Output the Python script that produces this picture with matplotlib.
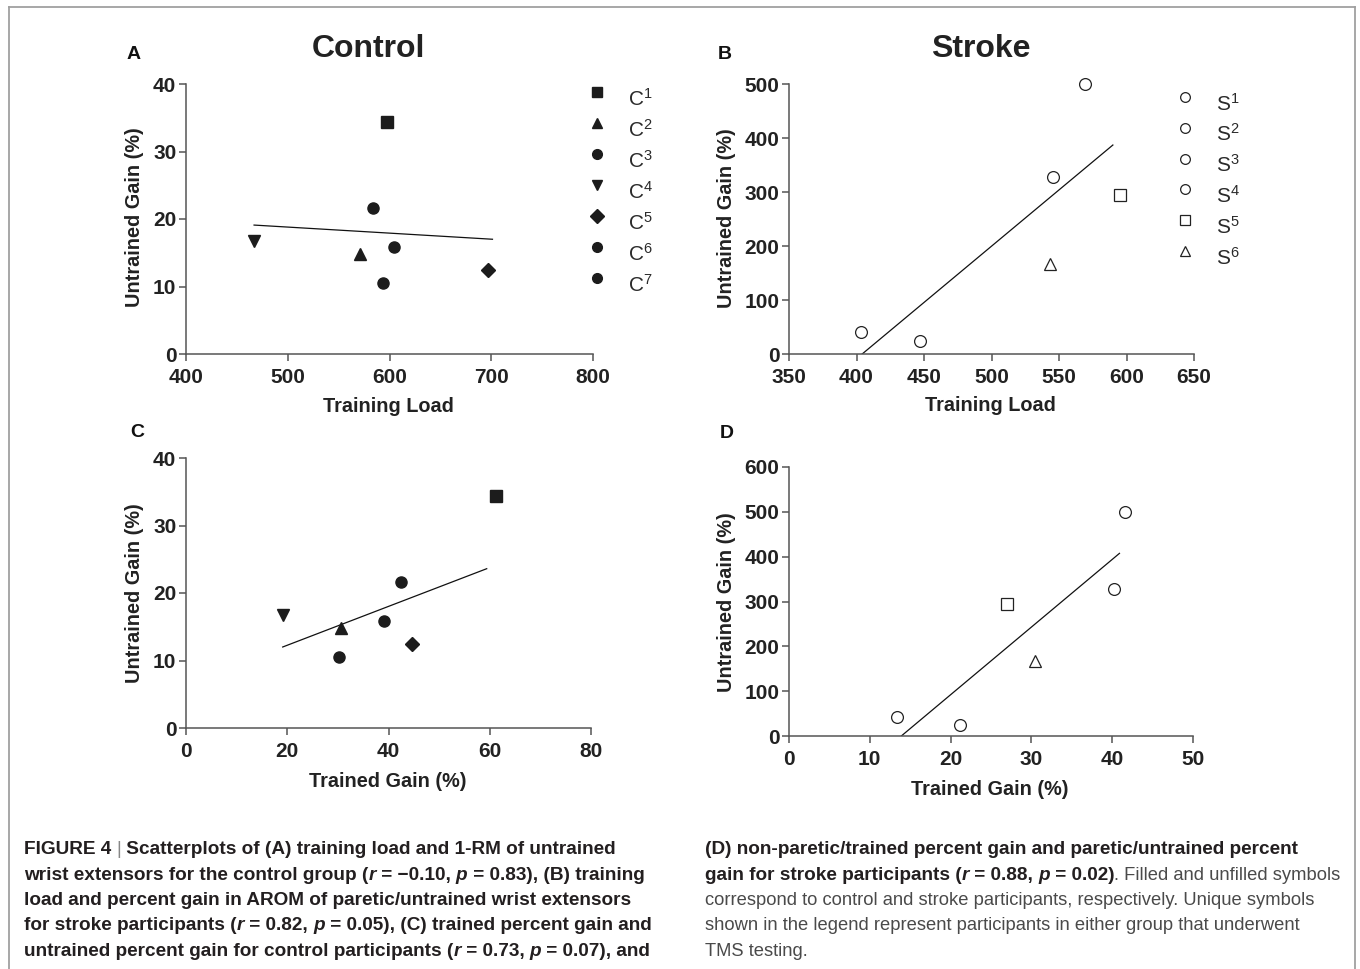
import matplotlib
matplotlib.use('Agg')
import matplotlib.pyplot as plt
from matplotlib.lines import Line2D

plt.rcParams['font.family'] = ['Liberation Sans', 'DejaVu Sans']
plt.rcParams['mathtext.fontset'] = 'custom'
plt.rcParams['mathtext.rm'] = 'Liberation Sans'
plt.rcParams['mathtext.it'] = 'Liberation Sans:italic'
plt.rcParams['mathtext.bf'] = 'Liberation Sans:bold'

# control participants C1..C7
control_labels = ['1', '2', '3', '4', '5', '6', '7']
control_markers = ['s', '^', 'o', 'v', 'D', 'o', 'o']
control_load = [597.9, 571.0, 584.1, 466.9, 697.0, 604.4, 593.9]
control_trained = [61.3, 30.6, 42.5, 19.1, 44.6, 39.1, 30.2]
control_untrained = [34.3, 14.8, 21.7, 16.7, 12.5, 15.9, 10.5]

# stroke participants S1..S6
stroke_labels = ['1', '2', '3', '4', '5', '6']
stroke_markers = ['o', 'o', 'o', 'o', 's', '^']
stroke_load = [569.0, 545.2, 403.2, 446.8, 595.5, 543.4]
stroke_trained = [41.6, 40.2, 13.4, 21.2, 27.0, 30.5]
stroke_untrained = [500.0, 328.4, 41.4, 23.5, 295.0, 166.7]

# regression lines as drawn (end points)
fitA_x = [466.9, 701.2]
fitA_y = [19.1, 17.0]
fitB_x = [404.2, 589.9]
fitB_y = [0.0, 387.0]
fitC_x = [19.1, 59.4]
fitC_y = [12.0, 23.6]
fitD_x = [13.9, 40.9]
fitD_y = [0.0, 407.4]

W, H = 1360, 969
fig = plt.figure(figsize=(W / 100, H / 100), dpi=100)
fig.patch.set_facecolor('white')


def fx(px):
    return px / W


def fy(py):
    return 1 - py / H


def make_axes(left, right, top, bottom):
    return fig.add_axes([fx(left), fy(bottom), (right - left) / W, (bottom - top) / H])


def style_axes(ax, xlim, ylim, xticks, yticks):
    ax.set_xlim(xlim)
    ax.set_ylim(ylim)
    ax.set_xticks(xticks)
    ax.set_yticks(yticks)
    ax.spines['top'].set_visible(False)
    ax.spines['right'].set_visible(False)
    for s in ['left', 'bottom']:
        ax.spines[s].set_color('#555555')
        ax.spines[s].set_linewidth(1.1)
    ax.tick_params(length=5, width=1.1, color='#555555', pad=2,
                   labelsize=15, labelcolor='#222222')
    ax.tick_params(axis='x', pad=5)
    for lab in ax.get_xticklabels() + ax.get_yticklabels():
        lab.set_fontweight('bold')
    ax.patch.set_alpha(0)


def draw_points(ax, xs, ys, markers, filled):
    for x, y, m in zip(xs, ys, markers):
        ms = 7.5 if m == 'D' else 8
        if filled:
            ax.plot(x, y, marker=m, ms=ms, color='#1c1c1c', ls='none',
                    zorder=3, clip_on=False)
        else:
            ax.plot(x, y, marker=m, ms=ms + 0.5, mfc='white', mec='#222222',
                    mew=0.9, ls='none', zorder=3, clip_on=False)


def draw_legend(ax, letter, labels, markers, filled, mx, tx, y0, dy):
    for i, (lab, m) in enumerate(zip(labels, markers)):
        y = y0 - i * dy
        if filled:
            ax.plot(mx, y, marker=m, ms=7, color='#1c1c1c', ls='none',
                    transform=ax.transAxes, clip_on=False)
        else:
            ax.plot(mx, y, marker=m, ms=7, mfc='white', mec='#222222', mew=0.9,
                    ls='none', transform=ax.transAxes, clip_on=False)
        ax.text(tx, y - 0.05, letter + r'$^{' + lab + '}$', transform=ax.transAxes,
                fontsize=15, color='#2a2a2a', va='baseline', ha='left')


# panel A
axA = make_axes(186, 593, 84, 354)
style_axes(axA, (400, 800), (0, 40), [400, 500, 600, 700, 800], [0, 10, 20, 30, 40])
axA.plot(fitA_x, fitA_y, color='#111111', lw=0.9, zorder=2)
draw_points(axA, control_load, control_untrained, control_markers, True)
draw_legend(axA, 'C', control_labels, control_markers, True, 1.0098, 1.086, 0.970, 0.1148)

# panel B
axB = make_axes(789, 1194, 84, 354)
style_axes(axB, (350, 650), (0, 500), [350, 400, 450, 500, 550, 600, 650],
           [0, 100, 200, 300, 400, 500])
axB.plot(fitB_x, fitB_y, color='#111111', lw=0.9, zorder=2)
draw_points(axB, stroke_load, stroke_untrained, stroke_markers, False)
draw_legend(axB, 'S', stroke_labels, stroke_markers, False, 0.978, 1.054, 0.952, 0.114)

# panel C
axC = make_axes(186, 591, 458, 728)
style_axes(axC, (0, 80), (0, 40), [0, 20, 40, 60, 80], [0, 10, 20, 30, 40])
axC.plot(fitC_x, fitC_y, color='#111111', lw=0.9, zorder=2)
draw_points(axC, control_trained, control_untrained, control_markers, True)

# panel D
axD = make_axes(789, 1193, 467, 736)
style_axes(axD, (0, 50), (0, 600), [0, 10, 20, 30, 40, 50],
           [0, 100, 200, 300, 400, 500, 600])
axD.plot(fitD_x, fitD_y, color='#111111', lw=0.9, zorder=2)
draw_points(axD, stroke_trained, stroke_untrained, stroke_markers, False)

# titles, panel letters, axis labels
fig.text(fx(368), fy(57), 'Control', fontsize=23, fontweight='bold', color='#222222',
         ha='center', va='baseline')
fig.text(fx(981), fy(57), 'Stroke', fontsize=23, fontweight='bold', color='#222222',
         ha='center', va='baseline')
for letter, px, py in [('A', 127, 59), ('B', 718, 59), ('C', 130, 437), ('D', 720, 438)]:
    fig.text(fx(px), fy(py), letter, fontsize=14, fontweight='bold', color='#111111',
             ha='left', va='baseline')
for txt, px, py in [('Training Load', 388, 412), ('Training Load', 990, 411),
                    ('Trained Gain (%)', 388, 787), ('Trained Gain (%)', 990, 795)]:
    fig.text(fx(px), fy(py), txt, fontsize=14.3, fontweight='bold', color='#222222',
             ha='center', va='baseline')
for px, py in [(134, 217), (727, 218), (134, 593), (727, 602)]:
    fig.text(fx(px), fy(py), 'Untrained Gain (%)', fontsize=14.3, fontweight='bold',
             color='#222222', ha='center', va='center', rotation=90)

# frame round the figure
frame = '#a0a0a0'
fig.add_artist(Line2D([fx(9), fx(9)], [fy(969), fy(7)], color=frame, lw=1.3))
fig.add_artist(Line2D([fx(9), fx(1355)], [fy(7), fy(7)], color=frame, lw=1.3))
fig.add_artist(Line2D([fx(1355), fx(1355)], [fy(7), fy(969)], color=frame, lw=1.3))

# caption, drawn as runs of text
B, I, N = 'bold', 'bolditalic', 'normal'
dark = '#231f20'
light = '#4a4a4a'
left_lines = [
    [('FIGURE 4 ', B), ('|', 'bar'), (' Scatterplots of (A) training load and 1-RM of untrained', B)],
    [('wrist extensors for the control group (', B), ('r', I), (' = \u22120.10, ', B), ('p', I),
     (' = 0.83), (B) training', B)],
    [('load and percent gain in AROM of paretic/untrained wrist extensors', B)],
    [('for stroke participants (', B), ('r', I), (' = 0.82, ', B), ('p', I),
     (' = 0.05), (C) trained percent gain and', B)],
    [('untrained percent gain for control participants (', B), ('r', I), (' = 0.73, ', B),
     ('p', I), (' = 0.07), and', B)],
]
right_lines = [
    [('(D) non-paretic/trained percent gain and paretic/untrained percent', B)],
    [('gain for stroke participants (', B), ('r', I), (' = 0.88, ', B), ('p', I), (' = 0.02)', B),
     ('. Filled and unfilled symbols', N)],
    [('correspond to control and stroke participants, respectively. Unique symbols', N)],
    [('shown in the legend represent participants in either group that underwent', N)],
    [('TMS testing.', N)],
]
baselines = [854, 880, 905, 930, 956]

renderer = fig.canvas.get_renderer()


def draw_runs(x, y, runs, size=13.7):
    for txt, kind in runs:
        weight = 'bold' if kind in (B, I) else 'normal'
        style = 'italic' if kind == I else 'normal'
        color = dark if kind in (B, I) else light
        fs = size if kind in (B, I) else 13.2
        if kind == 'bar':
            weight, color = 'normal', '#888888'
        t = fig.text(fx(x), fy(y), txt.rstrip(' '), fontsize=fs, fontweight=weight,
                     fontstyle=style, color=color, ha='left', va='baseline')
        x += t.get_window_extent(renderer=renderer).width
        # trailing spaces are not counted in the width, add them by hand
        if txt.endswith(' '):
            sp = fig.text(0, 0, 'a a', fontsize=fs, fontweight=weight)
            sp2 = fig.text(0, 0, 'aa', fontsize=fs, fontweight=weight)
            x += (sp.get_window_extent(renderer=renderer).width
                  - sp2.get_window_extent(renderer=renderer).width)
            sp.remove()
            sp2.remove()


for runs, yb in zip(left_lines, baselines):
    draw_runs(24, yb, runs)
for runs, yb in zip(right_lines, baselines):
    draw_runs(705, yb, runs)

fig.savefig('out.png', dpi=100)
